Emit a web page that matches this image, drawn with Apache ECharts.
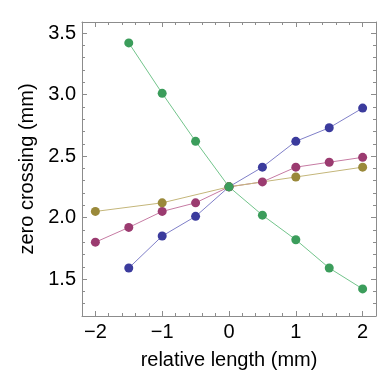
<!DOCTYPE html>
<html>
<head>
<meta charset="utf-8">
<script src="https://cdn.jsdelivr.net/npm/echarts@6/dist/echarts.min.js"></script>
<style>
    html, body {margin: 0; padding: 0; background: #fff;}
    #chart {width: 382px; height: 377px;}
</style>
</head>
<body>
<div id="chart"></div>
<script>
    // values
    const xLengths = [-2, -1.5, -1, -0.5, 0, 0.5, 1, 1.5, 2];
    const blueVals = [null, 1.59, 1.85, 2.01, 2.25, 2.41, 2.62, 2.73, 2.89];
    const magentaVals = [1.80, 1.92, 2.05, 2.12, 2.25, 2.29, 2.41, 2.45, 2.49];
    const goldVals = [2.05, null, 2.12, null, 2.25, null, 2.33, null, 2.41];
    const greenVals = [null, 3.42, 3.01, 2.62, 2.25, 2.02, 1.82, 1.59, 1.42];

    const xMajor = [-2, -1, 0, 1, 2];
    const xMinor = [-1.8, -1.6, -1.4, -1.2, -0.8, -0.6, -0.4, -0.2,
        0.2, 0.4, 0.6, 0.8, 1.2, 1.4, 1.6, 1.8];
    const yMajor = [1.5, 2.0, 2.5, 3.0, 3.5];
    const yMinor = [1.3, 1.4, 1.6, 1.7, 1.8, 1.9, 2.1, 2.2, 2.3, 2.4,
        2.6, 2.7, 2.8, 2.9, 3.1, 3.2, 3.3, 3.4];

    const frameColor = '#8c8c8c';
    const font = 'Liberation Sans, Arial, sans-serif';
    const xRange = {min: -2.2, max: 2.2};
    const yRange = {min: 1.2, max: 3.59};

    const minus = v => String(v).replace('-', '\u2212');

    const makeAxis = function (range, pos, ticks, len, showLine, labels, extra) {
        return Object.assign({
            type: 'value',
            position: pos,
            min: range.min,
            max: range.max,
            splitLine: {show: false},
            axisLine: {show: showLine, onZero: false, lineStyle: {color: frameColor, width: 1}},
            axisTick: {show: true, inside: true, length: len, customValues: ticks,
                lineStyle: {color: frameColor, width: 1}},
            axisLabel: labels ? {show: true, customValues: labels, margin: 6,
                fontFamily: font, fontSize: 20, color: '#000',
                formatter: v => minus(v.toFixed(Number.isInteger(v) && pos === 'bottom' ? 0 : 1))}
                : {show: false}
        }, extra || {});
    };

    const xName = {
        name: 'relative length (mm)', nameLocation: 'middle', nameGap: 34,
        nameTextStyle: {fontFamily: font, fontSize: 20, color: '#000'}
    };
    const yName = {
        name: 'zero crossing (mm)', nameLocation: 'middle', nameGap: 39,
        nameTextStyle: {fontFamily: font, fontSize: 20, color: '#000'}
    };

    const lineSeries = function (vals, color, lineColor) {
        return {
            type: 'line',
            data: xLengths.map((x, i) => [x, vals[i]]).filter(p => p[1] !== null),
            symbol: 'circle',
            symbolSize: 9,
            itemStyle: {color: color},
            lineStyle: {color: lineColor, width: 1},
            silent: true,
            animation: false
        };
    };

    const chart = echarts.init(document.getElementById('chart'), null, {renderer: 'canvas'});
    chart.setOption({
        animation: false,
        grid: {left: 82, top: 22, right: 6, bottom: 61, containLabel: false},
        xAxis: [
            makeAxis(xRange, 'bottom', xMajor, 5, true, xMajor, xName),
            makeAxis(xRange, 'bottom', xMinor, 3, false, null),
            makeAxis(xRange, 'top', xMajor, 5, true, null),
            makeAxis(xRange, 'top', xMinor, 3, false, null)
        ],
        yAxis: [
            makeAxis(yRange, 'left', yMajor, 5, true, yMajor, yName),
            makeAxis(yRange, 'left', yMinor, 3, false, null),
            makeAxis(yRange, 'right', yMajor, 5, true, null),
            makeAxis(yRange, 'right', yMinor, 3, false, null)
        ],
        series: [
            lineSeries(blueVals, '#3b3b9d', '#7f7fc8'),
            lineSeries(magentaVals, '#9b3b70', '#c67ba3'),
            lineSeries(goldVals, '#9a893a', '#c4b67a'),
            lineSeries(greenVals, '#3b9d5b', '#72c48b')
        ]
    });
</script>
</body>
</html>
